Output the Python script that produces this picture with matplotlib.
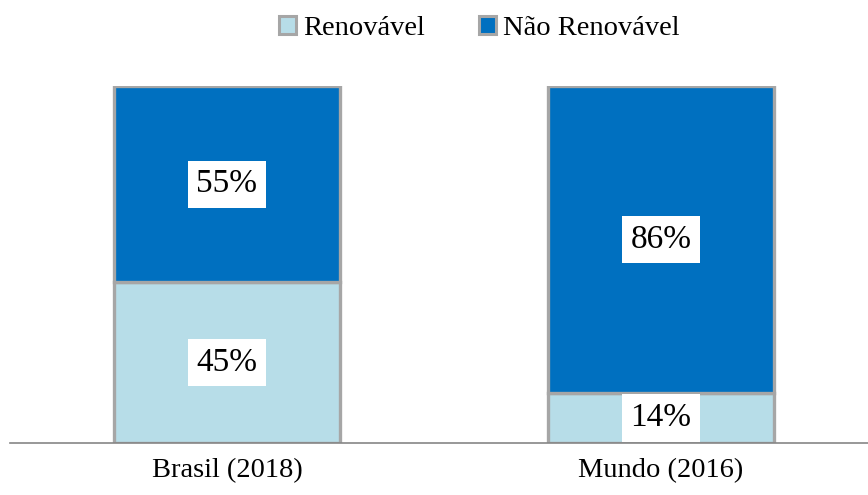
import matplotlib.pyplot as plt
from matplotlib.patches import Patch

# dados
categorias = ['Brasil (2018)', 'Mundo (2016)']
renovavel = [45, 14]
nao_renovavel = [55, 86]

cor_renov = '#B7DDE8'
cor_nao = '#0070C0'
cor_borda = '#A6A6A6'

plt.rcParams['font.family'] = ['Liberation Serif', 'DejaVu Serif']

fig = plt.figure(figsize=(8.68, 4.95), dpi=100)
ax = fig.add_axes([10 / 868, 52 / 495, 858 / 868, 357 / 495])

x = range(len(categorias))
largura = 0.52
b1 = ax.bar(x, renovavel, largura, color=cor_renov, edgecolor=cor_borda, linewidth=2.4)
b2 = ax.bar(x, nao_renovavel, largura, bottom=renovavel, color=cor_nao,
            edgecolor=cor_borda, linewidth=2.4)

# rótulos de porcentagem com fundo branco
for barras, valores, base in [(b1, renovavel, [0, 0]), (b2, nao_renovavel, renovavel)]:
    for barra, v, b in zip(barras, valores, base):
        ax.text(barra.get_x() + barra.get_width() / 2, b + v / 2, f'{v}%',
                ha='center', va='center', fontsize=24,
                bbox=dict(facecolor='white', edgecolor='none', pad=6))

ax.set_xlim(-0.5, 1.477)
ax.set_ylim(0, 100)
ax.set_xticks(list(x))
ax.set_xticklabels(categorias, fontsize=20.5)
ax.tick_params(axis='x', length=0, pad=11)
ax.set_yticks([])
for lado in ['top', 'right', 'left']:
    ax.spines[lado].set_visible(False)
ax.spines['bottom'].set_color('#868686')
ax.spines['bottom'].set_linewidth(1.2)

handles = [Patch(facecolor=cor_renov, edgecolor=cor_borda, linewidth=2.2),
           Patch(facecolor=cor_nao, edgecolor=cor_borda, linewidth=2.2)]
fig.legend(handles, ['Renovável', 'Não Renovável'], loc='upper center',
           bbox_to_anchor=(0.552, 1.02), ncol=2, frameon=False, fontsize=20.5,
           handlelength=0.6, handleheight=0.6, handletextpad=0.25, columnspacing=1.9)

fig.savefig('out.png', dpi=100)
